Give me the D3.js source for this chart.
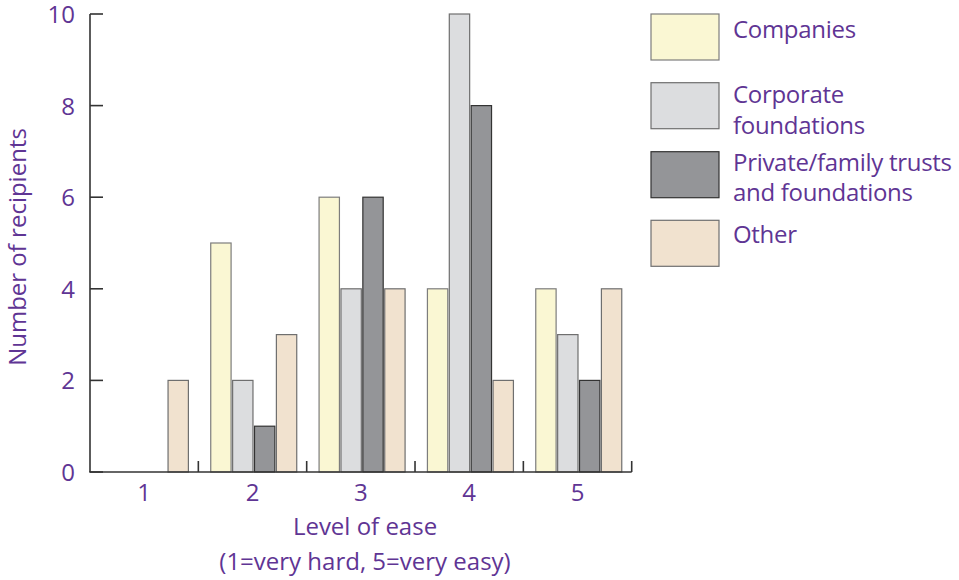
<!DOCTYPE html>
<html><head><meta charset="utf-8">
<script src="https://cdn.jsdelivr.net/npm/d3@7"></script>
<style>body{margin:0;background:#fff}text{font-family:"Open Sans",sans-serif;fill:#5f3594}</style>
</head><body><svg id="c" width="959" height="580"></svg>
<script>
const categories = ["1","2","3","4","5"];
const seriesNames = ["Companies","Corporate foundations","Private/family trusts and foundations","Other"];
const legendLines = [["Companies"],["Corporate","foundations"],["Private/family trusts","and foundations"],["Other"]];
const companies = [0,5,6,4,4];
const corporate = [0,2,4,10,3];
const privateTrusts = [0,1,6,8,2];
const other = [2,3,4,2,4];
const yTicks = [0,2,4,6,8,10];
const fills = ["#faf7d3","#dcdddf","#949598","#f1e2cf"];
const strokes = ["#7d7d7d","#6f6f6f","#333333","#6f6f6f"];

const series = [companies, corporate, privateTrusts, other];
const svg = d3.select("#c");
const x0 = d3.scaleBand().domain(categories).range([90, 631.7]).paddingInner(0).paddingOuter(0);
const x1 = d3.scaleBand().domain(d3.range(4)).range([12.4, 12.4 + 86]).paddingInner(0.07).paddingOuter(0);
const y = d3.scaleLinear().domain([0,10]).range([472,14]);
const fs = 24;

// bars
categories.forEach((c, ci) => {
  const g = svg.append("g").attr("transform", `translate(${x0(c)},0)`);
  series.forEach((s, si) => {
    const v = s[ci];
    if (v <= 0) return;
    g.append("rect").attr("x", x1(si)).attr("width", x1.bandwidth())
      .attr("y", y(v)).attr("height", y(0) - y(v))
      .attr("fill", fills[si]).attr("stroke", strokes[si]).attr("stroke-width", 1.2);
  });
});

// y axis
const ya = svg.append("g");
ya.append("line").attr("x1",90).attr("x2",90).attr("y1",y(10)).attr("y2",y(0)).attr("stroke","#333").attr("stroke-width",1.6);
yTicks.forEach(t => {
  ya.append("line").attr("x1",90).attr("x2",103).attr("y1",y(t)).attr("y2",y(t)).attr("stroke","#333").attr("stroke-width",1.6);
  ya.append("text").attr("x",75).attr("y",y(t)+9).attr("text-anchor","end").attr("font-size",fs).text(t);
});
// x axis
const xa = svg.append("g");
xa.append("line").attr("x1",89.2).attr("x2",631.7).attr("y1",y(0)).attr("y2",y(0)).attr("stroke","#333").attr("stroke-width",1.6);
categories.forEach((c,i) => {
  if (i>0) xa.append("line").attr("x1",x0(c)).attr("x2",x0(c)).attr("y1",y(0)).attr("y2",y(0)-11).attr("stroke","#333").attr("stroke-width",1.6);
  xa.append("text").attr("x",x0(c)+x0.bandwidth()/2).attr("y",501).attr("text-anchor","middle").attr("font-size",fs).text(c);
});
xa.append("line").attr("x1",631.7).attr("x2",631.7).attr("y1",y(0)).attr("y2",y(0)-11).attr("stroke","#333").attr("stroke-width",1.6);

svg.append("text").attr("x",365).attr("y",535).attr("text-anchor","middle").attr("font-size",fs).text("Level of ease");
svg.append("text").attr("x",365).attr("y",570).attr("text-anchor","middle").attr("font-size",fs).text("(1=very hard, 5=very easy)");
svg.append("text").attr("transform","translate(26,247) rotate(-90)").attr("text-anchor","middle").attr("font-size",fs).text("Number of recipients");

// legend
const lg = svg.append("g");
const swY = [14, 82.7, 151.7, 220.3];
const baseY = [[37.5],[103,134],[171,201],[243]];
seriesNames.forEach((n,i) => {
  lg.append("rect").attr("x",651).attr("y",swY[i]).attr("width",68).attr("height",46)
    .attr("fill",fills[i]).attr("stroke",strokes[i]).attr("stroke-width",1.2);
  legendLines[i].forEach((l,j) => {
    lg.append("text").attr("x",733).attr("y",baseY[i][j]).attr("font-size",fs).attr("letter-spacing",-0.3).text(l);
  });
});
</script></body></html>
